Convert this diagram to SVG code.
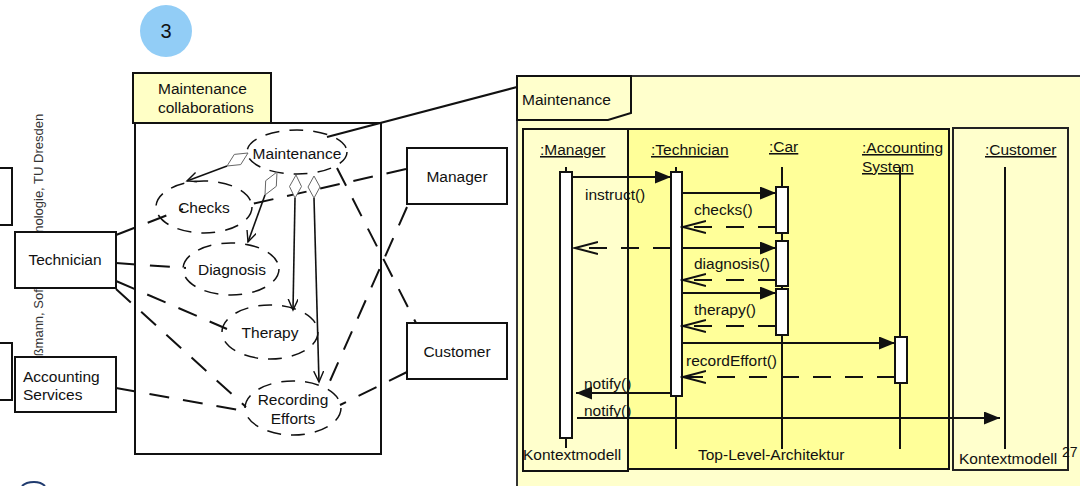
<svg xmlns="http://www.w3.org/2000/svg" width="1080" height="486" viewBox="0 0 1080 486">
  <defs>
    <style>
      text { font-family: "Liberation Sans", Arial, sans-serif; font-size: 15.5px; fill: #111; }
      .box { fill: #fff; stroke: #111; stroke-width: 2; }
      .assoc { fill: none; stroke: #111; stroke-width: 2; stroke-dasharray: 20 14; }
      .uc { fill: none; stroke: #111; stroke-width: 1.5; stroke-dasharray: 14 10; }
      .agg { fill: none; stroke: #111; stroke-width: 1.6; marker-end: url(#vopen); }
      .dia { fill: #fff; stroke: #666; stroke-width: 1; }
      .msg { fill: none; stroke: #111; stroke-width: 2; marker-end: url(#solid); }
      .ret { fill: none; stroke: #111; stroke-width: 2; stroke-dasharray: 18 14; marker-end: url(#open); }
      .life { stroke: #111; stroke-width: 2; }
      .bar { fill: #fff; stroke: #111; stroke-width: 2; }
      .hdr { text-decoration: underline; }
      .mid { text-anchor: middle; }
    </style>
    <marker id="vopen" markerUnits="userSpaceOnUse" markerWidth="14" markerHeight="12" refX="11" refY="5" orient="auto">
      <path d="M0,0 L11,5 L0,10" fill="none" stroke="#111" stroke-width="1.4"/>
    </marker>
    <marker id="solid" markerUnits="userSpaceOnUse" markerWidth="18" markerHeight="14" refX="16" refY="6.5" orient="auto">
      <path d="M0,0 L16,6.5 L0,13 Z" fill="#111"/>
    </marker>
    <marker id="open" markerUnits="userSpaceOnUse" markerWidth="26" markerHeight="16" refX="23" refY="7" orient="auto">
      <path d="M0,1 L23,7 L0,13" fill="none" stroke="#111" stroke-width="2"/>
    </marker>
  </defs>

  <rect width="1080" height="486" fill="#fff"/>

  <!-- step badge -->
  <g id="badge">
    <circle cx="166" cy="31" r="26" fill="#92cdf6"/>
    <text x="166" y="38" class="mid" style="font-size:20px">3</text>
  </g>

  <!-- vertical footer text, partly covered by the actor boxes -->
  <text transform="translate(43,412) rotate(-90)" style="font-size:13px;fill:#333">Prof. U. Aßmann, Softwaretechnologie, TU Dresden</text>

  <!-- boxes cut by the left edge -->
  <rect x="-40" y="168" width="52" height="57" class="box"/>
  <rect x="-40" y="343" width="52" height="57" class="box"/>

  <!-- collaboration package -->
  <g id="pkg-collab">
    <rect x="135" y="123" width="246" height="331" class="box"/>
    <rect x="133" y="73" width="138" height="50" fill="#ffffc6" stroke="#111" stroke-width="2"/>
    <text x="158" y="94">Maintenance</text>
    <text x="158" y="113">collaborations</text>
  </g>

  <!-- use-case ellipses -->
  <g id="uc-maintenance">
    <ellipse cx="297" cy="152" rx="50" ry="22" class="uc"/>
    <text x="297" y="159" class="mid">Maintenance</text>
  </g>
  <g id="uc-checks">
    <ellipse cx="204" cy="207" rx="48" ry="26" class="uc"/>
    <text x="204" y="213" class="mid">Checks</text>
  </g>
  <g id="uc-diagnosis">
    <ellipse cx="231" cy="269" rx="48" ry="26" class="uc"/>
    <text x="232" y="275" class="mid">Diagnosis</text>
  </g>
  <g id="uc-therapy">
    <ellipse cx="270" cy="332" rx="48" ry="27" class="uc"/>
    <text x="270" y="338" class="mid">Therapy</text>
  </g>
  <g id="uc-recording">
    <ellipse cx="293" cy="408" rx="48" ry="27" class="uc"/>
    <text x="293" y="405" class="mid">Recording</text>
    <text x="293" y="424" class="mid">Efforts</text>
  </g>

  <!-- actors -->
  <g id="actor-technician">
    <rect x="15" y="232" width="101" height="56" class="box"/>
    <text x="65" y="265" class="mid">Technician</text>
  </g>
  <g id="actor-accounting">
    <rect x="15" y="357" width="101" height="55" class="box"/>
    <text x="23" y="382">Accounting</text>
    <text x="23" y="400">Services</text>
  </g>
  <g id="actor-manager">
    <rect x="407" y="148" width="100" height="56" class="box"/>
    <text x="457" y="182" class="mid">Manager</text>
  </g>
  <g id="actor-customer">
    <rect x="407" y="323" width="100" height="56" class="box"/>
    <text x="457" y="357" class="mid">Customer</text>
  </g>

  <!-- connectors of the collaboration view -->
  <g id="collab-connectors">
    <line x1="116" y1="235" x2="183" y2="209" class="assoc"/>
    <line x1="116" y1="263" x2="186" y2="268" class="assoc"/>
    <line x1="116" y1="281" x2="227" y2="329" class="assoc"/>
    <line x1="116" y1="289" x2="246" y2="407" class="assoc"/>
    <line x1="116" y1="388" x2="245" y2="411" class="assoc"/>
    <line x1="406" y1="169" x2="252" y2="204" class="assoc"/>
    <line x1="407" y1="207" x2="326" y2="390" class="assoc"/>
    <line x1="337" y1="168" x2="416" y2="323" class="assoc"/>
    <line x1="407" y1="372" x2="340" y2="405" class="assoc"/>

    <line x1="227" y1="166" x2="187" y2="181" class="agg"/>
    <line x1="265" y1="195" x2="248" y2="242" class="agg"/>
    <line x1="295" y1="198" x2="293" y2="310" class="agg"/>
    <line x1="314" y1="198" x2="319" y2="382" class="agg"/>
    <polygon points="248,153 240.7,164.6 227,166 234.3,154.4" class="dia"/>
    <polygon points="277,172 276.3,186.3 265,195 265.7,180.7" class="dia"/>
    <polygon points="296,175 301.5,186.5 295,198 289.5,186.5" class="dia"/>
    <polygon points="314,176 320,187 314,198 308,187" class="dia"/>

    <!-- refinement line to the interaction frame -->
    <line x1="327" y1="137" x2="517" y2="87" stroke="#111" stroke-width="2"/>
  </g>

  <!-- interaction frame -->
  <g id="frame-maintenance">
    <rect x="517" y="76" width="600" height="450" fill="#ffffcc" stroke="#333" stroke-width="2"/>
    <path d="M517,76 H631 V113 L608,120 H517 Z" fill="#ffffcc" stroke="#111" stroke-width="2"/>
    <text x="522" y="105">Maintenance</text>
  </g>

  <g id="part-toplevel">
    <rect x="628" y="129" width="321" height="340" fill="#ffff99" stroke="#111" stroke-width="2"/>
    <text x="698" y="460">Top-Level-Architektur</text>
  </g>
  <g id="part-context-left">
    <rect x="523" y="129" width="105" height="342" fill="#ffffcc" stroke="#111" stroke-width="2"/>
    <text x="523" y="460">Kontextmodell</text>
  </g>
  <g id="part-context-right">
    <rect x="953" y="128" width="115" height="342" fill="#ffffcc" stroke="#222" stroke-width="2"/>
    <text x="959" y="464">Kontextmodell</text>
  </g>

  <!-- lifelines -->
  <g id="ll-manager">
    <text x="540" y="155" class="hdr">:Manager</text>
    <line x1="566" y1="167" x2="566" y2="448" class="life"/>
    <rect x="560" y="172" width="12" height="266" class="bar"/>
  </g>
  <g id="ll-technician">
    <text x="651" y="155" class="hdr">:Technician</text>
    <line x1="676" y1="167" x2="676" y2="449" class="life"/>
    <rect x="671" y="172" width="11" height="224" class="bar"/>
  </g>
  <g id="ll-car">
    <text x="769" y="152" class="hdr">:Car</text>
    <line x1="782" y1="167" x2="782" y2="449" class="life"/>
    <rect x="776" y="187" width="12" height="46" class="bar"/>
    <rect x="776" y="241" width="12" height="45" class="bar"/>
    <rect x="776" y="289" width="12" height="46" class="bar"/>
  </g>
  <g id="ll-accounting">
    <text x="862" y="153" class="hdr">:Accounting</text>
    <text x="862" y="172" class="hdr">System</text>
    <line x1="900" y1="167" x2="900" y2="449" class="life"/>
    <rect x="895" y="337" width="12" height="46" class="bar"/>
  </g>
  <g id="ll-customer">
    <text x="985" y="155" class="hdr">:Customer</text>
    <line x1="1005" y1="167" x2="1005" y2="449" class="life"/>
  </g>

  <!-- messages -->
  <g id="messages">
    <line x1="572" y1="177" x2="671" y2="177" class="msg"/>
    <text x="585" y="200">instruct()</text>

    <line x1="682" y1="193" x2="776" y2="193" class="msg"/>
    <text x="694" y="215">checks()</text>
    <line x1="776" y1="227" x2="683" y2="227" class="ret"/>

    <line x1="671" y1="248" x2="575" y2="248" class="ret"/>

    <line x1="682" y1="248" x2="776" y2="248" class="msg"/>
    <text x="694" y="269">diagnosis()</text>
    <line x1="776" y1="280" x2="683" y2="280" class="ret"/>

    <line x1="682" y1="293" x2="776" y2="293" class="msg"/>
    <text x="694" y="315">therapy()</text>
    <line x1="776" y1="326" x2="683" y2="326" class="ret"/>

    <line x1="682" y1="343" x2="895" y2="343" class="msg"/>
    <text x="686" y="366">recordEffort()</text>
    <line x1="895" y1="377" x2="683" y2="377" class="ret"/>

    <line x1="671" y1="393" x2="576" y2="393" class="msg"/>
    <text x="584" y="389">notify()</text>

    <line x1="577" y1="418" x2="1000" y2="418" class="msg"/>
    <text x="584" y="416">notify()</text>
  </g>

  <!-- page number -->
  <text x="1062" y="457" style="font-size:14px">27</text>

  <!-- logo fragment at the lower edge -->
  <path d="M22,486 Q26,482 34,482 Q41,482 45,486" fill="none" stroke="#1f3a6e" stroke-width="2"/>
</svg>
